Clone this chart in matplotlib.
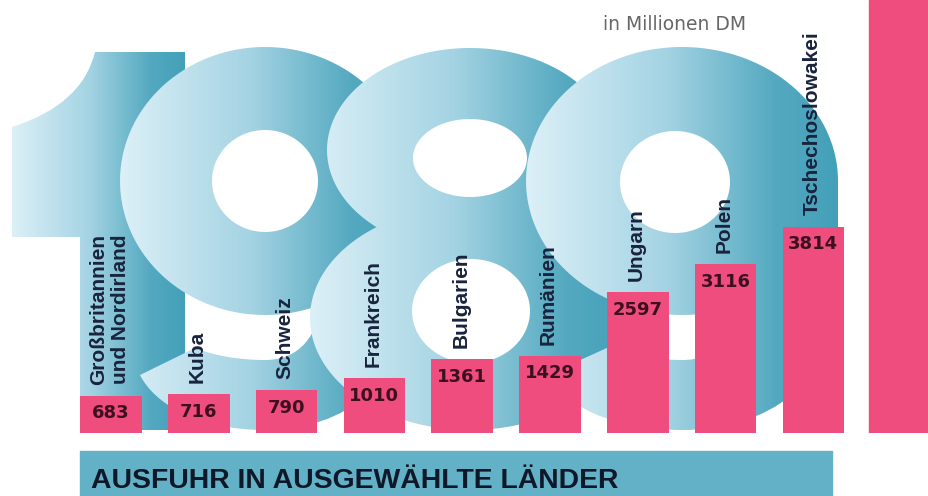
import numpy as np
import matplotlib
matplotlib.use("Agg")
import matplotlib.pyplot as plt
from matplotlib.path import Path
from matplotlib.patches import PathPatch, Rectangle
from matplotlib.colors import LinearSegmentedColormap

# data: exports 1989, in Millionen DM
countries = ["Großbritannien\nund Nordirland", "Kuba", "Schweiz", "Frankreich",
             "Bulgarien", "Rumänien", "Ungarn", "Polen", "Tschechoslowakei"]
values = [683, 716, 790, 1010, 1361, 1429, 2597, 3116, 3814]
title = "AUSFUHR IN AUSGEWÄHLTE LÄNDER"
unit = "in Millionen DM"

pink = "#ee4d7e"
navy = "#19233d"
maroon = "#3d1020"
band = "#62b1c6"

M, L, C3, C4, CL = Path.MOVETO, Path.LINETO, Path.CURVE3, Path.CURVE4, Path.CLOSEPOLY


def ellipse_pts(cx, cy, rx, ry, rev=False):
    t = np.linspace(0, 2 * np.pi, 160)
    if rev:
        t = t[::-1]
    return np.column_stack([cx + rx * np.cos(t), cy + ry * np.sin(t)])


def ring(outer, hole):
    a = ellipse_pts(*outer)
    b = ellipse_pts(*hole, rev=True)
    codes = [M] + [L] * (len(a) - 1) + [M] + [L] * (len(b) - 1)
    return Path(np.vstack([a, b]), codes)


def tail9(cx, rx, hr):
    # tail of a "9" whose ring centre is cx, outer half-width rx, hole right edge hr
    s = rx / 145.0
    r = cx + rx
    v = [(r, 181), (r, 290),
         (r, 382), (cx + 80 * s, 430), (cx, 430),
         (cx - 65 * s, 430), (cx - 110 * s, 405), (cx - 125 * s, 375),
         (cx - 70 * s, 348),
         (cx - 50 * s, 356), (cx - 25 * s, 360), (cx, 360),
         (cx + 35 * s, 360), (hr, 335), (hr + 4, 300),
         (hr + 4, 181), (r, 181)]
    c = [M, L, C4, C4, C4, C4, C4, C4, L, C4, C4, C4, C4, C4, C4, L, CL]
    return Path(v, c)


one = Path([(95, 52), (82, 105), (12, 127), (12, 237), (80, 237), (80, 430),
            (185, 430), (185, 52), (95, 52)],
           [M, C3, C3, L, L, L, L, L, CL])

# big "1989" in the background: (gradient extent, list of shapes)
digits = [
    ((12, 185), [one]),
    ((120, 410), [ring((265, 181, 145, 134), (265, 181, 53, 51)), tail9(265, 145, 318)]),
    ((310, 630), [ring((470, 150, 143, 102), (470, 158, 57, 39)),
                  ring((470, 318, 160, 112), (471, 311, 59, 52))]),
    ((526, 838), [ring((682, 181, 156, 134), (675, 182, 55, 51)), tail9(682, 156, 730)]),
]

fig = plt.figure(figsize=(9.29, 4.96), dpi=100)

bg = fig.add_axes([0, 0, 1, 1])
bg.axis("off")

blue_cmap = LinearSegmentedColormap.from_list(
    "blu", [(0, "#dcf0f7"), (0.45, "#a4d3e3"), (0.8, "#54a9c0"), (1, "#43a0b9")])
grad = np.tile(np.linspace(0, 1, 256), (64, 1))

for k, ((x0, x1), shapes) in enumerate(digits):
    for shp in shapes:
        patch = PathPatch(shp, fc="none", ec="none", transform=bg.transData)
        bg.add_patch(patch)
        im = bg.imshow(grad, cmap=blue_cmap, extent=(x0, x1, 432, 45),
                       aspect="auto", zorder=1 + k, interpolation="bilinear")
        im.set_clip_path(patch)
bg.set_xlim(0, 929)
bg.set_ylim(496, 0)

# title band
bg.add_patch(Rectangle((80, 451), 752, 50, color=band, zorder=10))
bg.text(91, 488, title, fontsize=20.4, fontweight="bold", color="#0f1828",
        family=["Liberation Sans"], va="baseline", zorder=11)
bg.text(603, 30, unit, fontsize=13.5, color="#666666",
        family=["DejaVu Sans"], va="baseline", zorder=11)

# bars
ax = fig.add_axes([0, 63 / 496, 1, 433 / 496])
ax.patch.set_alpha(0)
ax.axis("off")
x = np.arange(len(values))
ax.bar(x, values, width=0.7, color=pink, zorder=3)
ax.axvspan(8.633, 9.5, color=pink, zorder=3)
ax.set_xlim(-1.264, 9.317)
ax.set_ylim(0, 8000)

for i, (c, v) in enumerate(zip(countries, values)):
    ax.annotate(c, (i, v), xytext=(-1, 8), textcoords="offset points",
                rotation=90, ha="center", va="bottom", fontsize=15,
                fontweight="bold", color=navy, family=["Liberation Sans"],
                linespacing=1.25, zorder=5)
    ax.annotate(str(v), (i, v), xytext=(0, -6), textcoords="offset points",
                ha="center", va="top", fontsize=13, fontweight="bold",
                color=maroon, family=["DejaVu Sans"], zorder=5)

fig.savefig("out.png", dpi=100)
